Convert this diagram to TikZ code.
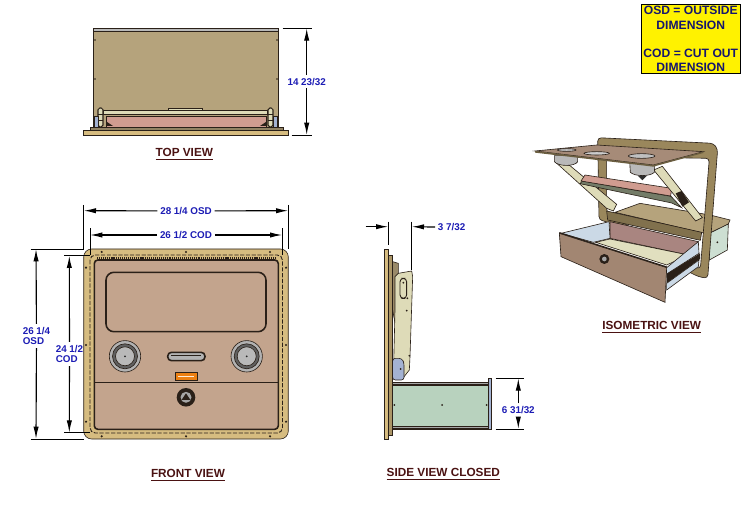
\documentclass[tikz,border=0pt]{standalone}
\usepackage{fontspec}
\setmainfont{Liberation Sans}
\usetikzlibrary{arrows.meta}
\definecolor{boxtan}{HTML}{B5A37C}
\definecolor{flangetan}{HTML}{D6BC80}
\definecolor{panelbrown}{HTML}{C3A48D}
\definecolor{rosepanel}{HTML}{D09C90}
\definecolor{creamarm}{HTML}{DEDBB8}
\definecolor{drawergreen}{HTML}{B8D2BE}
\definecolor{plateblue}{HTML}{A3B2D2}
\definecolor{sideblue}{HTML}{CBD9E6}
\definecolor{drawerfront}{HTML}{A28672}
\definecolor{mauveback}{HTML}{A98580}
\definecolor{stripgrey}{HTML}{747C68}
\definecolor{dimblue}{HTML}{1C1CB4}
\definecolor{titlered}{HTML}{4A1212}
\definecolor{legendnavy}{HTML}{16166E}
\definecolor{edgedark}{HTML}{2A2018}
\tikzset{
  dimline/.style={line width=0.65pt, -{Latex[length=7pt,width=3pt]}},
  extline/.style={line width=0.5pt},
  dimlabel/.style={font=\bfseries\fontsize{5.6pt}{6.4pt}\selectfont, text=dimblue, inner sep=1.5pt},
  viewtitle/.style={font=\bfseries\fontsize{6.7pt}{8pt}\selectfont, text=titlered, anchor=base, inner sep=0pt},
  legendline/.style={font=\bfseries\fontsize{6.9pt}{8pt}\selectfont, text=legendnavy, inner sep=0pt},
  part/.style={draw=edgedark, line width=0.35pt},
  screw/.style={fill=edgedark, draw=none}
}
\begin{document}
\begin{tikzpicture}[x=0.02cm, y=-0.02cm]
  \useasboundingbox (0,0) rectangle (743,526);

  % legend
  \node[draw=black, fill=yellow, line width=0.5pt, minimum width=1.99cm, minimum height=1.39cm, inner sep=0pt] (legendbox) at (690.8,39.2) {};
  \node[legendline] (osdline) at (690.8,10.7) {OSD = OUTSIDE};
  \node[legendline] (osdword) at (690.8,25) {DIMENSION};
  \node[legendline] (codline) at (690.8,53.3) {COD = CUT OUT};
  \node[legendline] (codword) at (690.8,67.7) {DIMENSION};

  % top view
  \fill[boxtan, part] (93.3,31.7) rectangle (278,127);
  \fill[gray!55, part] (93.3,28.3) rectangle (278,31.7);
  \fill[rosepanel, part] (106.7,116) rectangle (266.7,127);
  \fill[creamarm, draw=edgedark, line width=0.6pt] (103,110.7) rectangle (268,114.5);
  \fill[creamarm, part] (168,108.6) rectangle (202,110.7);
  \foreach \xa/\xb in {98/103, 268/273}
  {
    \fill[creamarm, draw=edgedark, line width=0.6pt, rounded corners=1pt] (\xa,108) rectangle (\xb,127);
    \draw[edgedark, line width=0.5pt] (\xa,114.5) -- (\xb,114.5) (\xa,120) -- (\xb,120);
  }
  \foreach \xa/\xb in {94/98, 273/277}
    \fill[plateblue, part] (\xa,116.7) rectangle (\xb,127);
  \fill[edgedark] (107,122) -- (113,126) -- (107,126) -- cycle;
  \fill[edgedark] (266,122) -- (260,126) -- (266,126) -- cycle;
  \fill[boxtan!80!black, part] (90,127) rectangle (283,130.7);
  \fill[flangetan, part] (83.3,130.7) rectangle (288.7,135);
  \draw[edgedark, line width=0.7pt, dash pattern=on 0.6pt off 0.5pt] (103,135.6) -- (270,135.6);
  \foreach \yy in {40,79}
  {
    \fill[screw] (95,\yy) circle [radius=0.9];
    \fill[screw] (277,\yy) circle [radius=0.9];
  }
  \coordinate (topup) at (306.7,28.3);
  \coordinate (topdown) at (306.7,135);
  \draw[extline] (282.7,28.3) -- (311.7,28.3);
  \draw[extline] (291.7,135) -- (311.7,135);
  \node[dimlabel] (topdim) at (306.7,81.7) {14 23/32};
  \draw[dimline] (topdim) -- (topup);
  \draw[dimline] (topdim) -- (topdown);
  \node[viewtitle] (toptitle) at (184.3,156.5) {\underline{TOP VIEW}};

  % front view
  \fill[flangetan, part, rounded corners=4.5pt] (83.7,249) rectangle (288.3,439);
  \draw[edgedark, line width=0.5pt, dashed, dash pattern=on 2.4pt off 0.9pt, rounded corners=3pt] (90,255) rectangle (282.5,433);
  \draw[edgedark, line width=1.1pt, dash pattern=on 0.6pt off 0.5pt] (97,258.2) -- (275,258.2);
  \fill[panelbrown, draw=edgedark, line width=0.9pt, rounded corners=2pt] (94.3,260) rectangle (278.3,429.3);
  \draw[edgedark, line width=0.9pt, rounded corners=4.5pt] (106,272.3) rectangle (266,331.7);
  \draw[edgedark, line width=0.7pt] (94.3,382.3) -- (278.3,382.3);
  \foreach \xx in {125,246.7}
  {
    \fill[gray!60, part] (\xx,356.3) circle [radius=15.7];
    \fill[gray!75!black, part] (\xx,356.3) circle [radius=12.5];
    \fill[gray!55, part] (\xx,356.3) circle [radius=9.5];
    \fill[gray!30!black] (\xx,356.3) circle [radius=1];
  }
  \fill[gray!60, draw=edgedark, line width=0.9pt, rounded corners=2.2pt] (167.7,352.3) rectangle (205,360.7);
  \draw[edgedark, line width=1pt] (171,355.5) -- (201,355.5);
  \fill[orange!70!brown, part] (175,372.3) rectangle (197.3,380.3);
  \draw[white!85!orange, line width=0.9pt] (178,376.3) -- (194,376.3);
  \fill[edgedark] (186,397.3) circle [radius=9.3];
  \fill[gray!70] (186,397.3) circle [radius=5.5];
  \fill[edgedark] (186,393.3) -- (190.5,400) -- (181.5,400) -- cycle;
  \foreach \xx in {101.7,186,270}
  {
    \fill[screw] (\xx,252) circle [radius=1.2];
    \fill[screw] (\xx,436.3) circle [radius=1.2];
  }
  \foreach \yy in {267.7,345,421.7}
  {
    \fill[screw] (86,\yy) circle [radius=1.2];
    \fill[screw] (286,\yy) circle [radius=1.2];
  }
  % width dimensions
  \coordinate (osdleft) at (83.7,210.7);
  \coordinate (osdright) at (288.3,210.7);
  \coordinate (codleft) at (90,235);
  \coordinate (codright) at (282.3,235);
  \draw[extline] (83.7,205) -- (83.7,249);
  \draw[extline] (288.3,205) -- (288.3,249);
  \draw[extline] (90,228.3) -- (90,255);
  \draw[extline] (282.3,228.3) -- (282.3,255);
  \node[dimlabel] (osdwidth) at (186,211) {28 1/4 OSD};
  \node[dimlabel] (codwidth) at (186,235) {26 1/2 COD};
  \draw[dimline] (osdwidth) -- (osdleft);
  \draw[dimline] (osdwidth) -- (osdright);
  \draw[dimline] (codwidth) -- (codleft);
  \draw[dimline] (codwidth) -- (codright);
  % height dimensions
  \coordinate (osdup) at (36,249);
  \coordinate (osddown) at (36,439);
  \coordinate (codup) at (69.3,255.7);
  \coordinate (coddown) at (69.3,432.7);
  \draw[extline] (30.7,249) -- (83.7,249);
  \draw[extline] (30.7,439) -- (83.7,439);
  \draw[extline] (64,255.7) -- (90,255.7);
  \draw[extline] (64,432.7) -- (90,432.7);
  \node[dimlabel, align=left, font=\bfseries\fontsize{5.6pt}{6.2pt}\selectfont] (osdheight) at (36.5,336) {26 1/4\\OSD};
  \node[dimlabel, align=left, font=\bfseries\fontsize{5.6pt}{6.2pt}\selectfont] (codheight) at (69.5,354) {24 1/2\\COD};
  \draw[dimline] (osdheight) -- (osdup);
  \draw[dimline] (osdheight) -- (osddown);
  \draw[dimline] (codheight) -- (codup);
  \draw[dimline] (codheight) -- (coddown);
  \node[viewtitle] (fronttitle) at (188,477.5) {\underline{FRONT VIEW}};

  % side view
  \begin{scope}[shift={(350,210)}, scale=1/3]
    \fill[boxtan!85!black, part] (128,155) -- (145,160) -- (145,300) -- (135,340) -- (128,300) -- cycle;
    \fill[drawergreen, part] (128,525) rectangle (415,650);
    \fill[gray!70, draw=edgedark, line width=0.6pt] (128,517) rectangle (415,525);
    \fill[gray!70, draw=edgedark, line width=0.6pt] (128,650) rectangle (415,657);
    \fill[plateblue, part] (415,505) rectangle (425,657);
    \fill[creamarm, part] (135,200) -- (145,190) -- (185,183) -- (188,200) -- (180,440) -- (178,480) -- (160,503) -- (130,505) -- (135,300) -- cycle;
    \fill[plateblue, part, rounded corners=1.5pt] (128,445) -- (155,445) -- (162,458) -- (162,510) -- (128,510) -- cycle;
    \draw[edgedark, line width=0.5pt, rounded corners=2pt] (150,205) rectangle (170,265);
    \fill[flangetan!80!black, part] (116,135) rectangle (128,675);
    \fill[flangetan, part] (104,118) rectangle (116,688);
    \foreach \px/\py in {160/218, 172/265, 170/302, 178/437, 152/477, 133/585, 276/585, 410/585}
      \fill[screw] (\px,\py) circle [radius=3];
  \end{scope}
  \coordinate (depthleft) at (388.3,226.7);
  \coordinate (depthright) at (411.7,226.7);
  \coordinate (depthtail) at (365.7,226.7);
  \draw[extline] (388.3,221.7) -- (388.3,245);
  \draw[extline] (411.7,221.7) -- (411.7,270);
  \node[dimlabel, anchor=west] (depthdim) at (435,227.3) {3 7/32};
  \draw[dimline] (depthtail) -- (depthleft);
  \draw[dimline] (depthdim) -- (depthright);
  \coordinate (drawerup) at (518.3,378.3);
  \coordinate (drawerdown) at (518.3,429);
  \draw[extline] (495.7,378.3) -- (524,378.3);
  \draw[extline] (495.7,429) -- (524,429);
  \node[dimlabel] (drawerdim) at (518.3,410) {6 31/32};
  \draw[dimline] (drawerdim) -- (drawerup);
  \draw[dimline] (drawerdim) -- (drawerdown);
  \node[viewtitle] (sidetitle) at (443.3,476.5) {\underline{SIDE VIEW CLOSED}};

  % isometric view
  \begin{scope}[shift={(525,125)}, scale=1/3]
    % rear box
    \fill[boxtan, part] (270,262) -- (345,235) -- (555,270) -- (615,285) -- (610,297) -- (553,325) -- (525,322) -- cycle;
    \fill[drawergreen!70!white, part] (553,325) -- (610,297) -- (607,375) -- (553,405) -- cycle;
    \fill[screw] (577,352) circle [radius=3];
    % frame
    \fill[flangetan!72!black, part, even odd rule, rounded corners=2pt]
      (218,38) -- (565,55) -- (578,72) -- (548,460) -- (520,455) -- (490,440) -- (245,290) -- (222,285) -- cycle
      (245,95) -- (553,100) -- (526,432) -- (505,425) -- (245,262) -- cycle;
    \fill[flangetan!60!black, part] (245,258) -- (530,322) -- (526,346) -- (248,285) -- cycle;
    % arms and panel
    \fill[creamarm, part] (92,112) -- (135,122) -- (275,238) -- (265,258) -- (245,250) -- cycle;
    \fill[stripgrey, part] (165,176) -- (172,168) -- (438,214) -- (470,248) -- (440,234) -- cycle;
    \fill[rosepanel, part] (168,168) -- (180,150) -- (440,190) -- (437,213) -- cycle;
    \fill[creamarm, part] (386,135) -- (412,124) -- (532,278) -- (512,288) -- cycle;
    \fill[edgedark] (452,205) -- (470,198) -- (492,232) -- (472,245) -- cycle;
    % knobs under the lid
    \fill[gray!55, part] (88,92) -- (158,92) -- (158,110) .. controls (150,125) and (100,125) .. (88,110) -- cycle;
    \fill[gray!55, part] (314,110) -- (390,110) -- (388,142) .. controls (375,155) and (330,155) .. (316,142) -- cycle;
    \fill[gray!35!black] (338,152) -- (366,152) -- (352,166) -- cycle;
    % lid
    \fill[panelbrown!85!black, part] (30,78) -- (215,60) -- (535,80) -- (385,120) -- cycle;
    \fill[flangetan!50!black] (30,78) -- (385,120) -- (535,80) -- (535,84) -- (385,125) -- (30,83) -- cycle;
    \fill[gray!50, part] (125,75) ellipse [x radius=28, y radius=4];
    \fill[gray!40, part] (215,85) ellipse [x radius=38, y radius=5];
    \fill[gray!50, part] (350,93) ellipse [x radius=40, y radius=7];
    % drawer
    \fill[mauveback, part] (255,290) -- (520,350) -- (490,390) -- (255,340) -- cycle;
    \fill[sideblue, part] (108,325) -- (252,290) -- (255,340) -- (205,352) -- cycle;
    \fill[creamarm!90!white, part] (212,352) -- (255,342) -- (490,390) -- (425,420) -- cycle;
    \fill[sideblue, part] (425,428) -- (520,350) -- (522,385) -- (425,447) -- cycle;
    \fill[edgedark] (425,447) -- (525,385) -- (525,402) -- (425,475) -- cycle;
    \fill[sideblue, part] (425,475) -- (522,405) -- (520,425) -- (425,495) -- cycle;
    \fill[drawerfront, part] (103,325) -- (425,428) -- (420,532) -- (108,395) -- cycle;
    \draw[edgedark, line width=0.7pt] (103,323) -- (425,426);
    \fill[edgedark] (238,402) circle [radius=15];
    \fill[gray!70] (238,402) circle [radius=7];
  \end{scope}
  \node[viewtitle] (isotitle) at (651.7,330) {\underline{ISOMETRIC VIEW}};
\end{tikzpicture}
\end{document}
